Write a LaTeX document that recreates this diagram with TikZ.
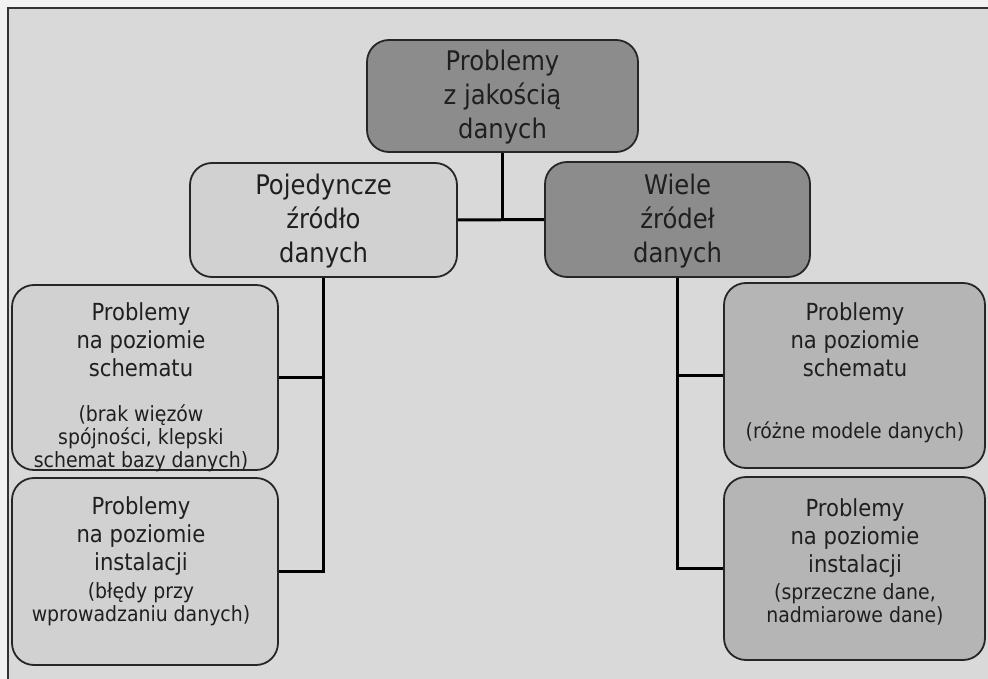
\documentclass[tikz,border=0pt]{standalone}
\usepackage{fontspec}
\setmainfont{DejaVu Sans Condensed}
\begin{document}
\begin{tikzpicture}[x=1pt,y=-1pt,
  boxline/.style={draw=black!85, line width=1.8pt, rounded corners=22pt},
  darkbox/.style={boxline, fill=black!45},
  lightbox/.style={boxline, fill=black!18},
  midbox/.style={boxline, fill=black!29},
  bigtxt/.style={align=center, text=black!88, font=\fontsize{27}{34}\selectfont},
  maintxt/.style={align=center, text=black!88, font=\fontsize{23.5}{28}\selectfont},
  subtxt/.style={align=center, text=black!88, font=\fontsize{21}{23}\selectfont},
  link/.style={draw=black, line width=3pt}]
  \useasboundingbox (0,0) rectangle (988,679);
  % page and frame
  \fill[black!5] (0,0) rectangle (988,679);
  \fill[black!15] (8,8) rectangle (988,679);
  \draw[black!80, line width=1.6pt] (8,679) -- (8,8) -- (988,8);

  % boxes
  \node[darkbox, minimum width=271pt, minimum height=112pt] (top) at (502.5,96) {};
  \node[lightbox, minimum width=267pt, minimum height=114pt] (poj) at (323.5,220) {};
  \node[darkbox, minimum width=265pt, minimum height=115pt] (wie) at (677.5,219.5) {};
  \node[lightbox, minimum width=266pt, minimum height=185pt] (l1) at (145,377.5) {};
  \node[lightbox, minimum width=266pt, minimum height=187pt] (l2) at (145,571.5) {};
  \node[midbox, minimum width=261pt, minimum height=185pt] (r1) at (854.5,375.5) {};
  \node[midbox, minimum width=261pt, minimum height=183pt] (r2) at (854.5,568.5) {};

  % connectors
  \coordinate (mid) at (top.south |- poj.east);
  \draw[link] (top.south) -- (mid);
  \draw[link] (poj.east) -- (wie.west);
  \coordinate (lbot) at (poj.south |- l2.east);
  \draw[link] (poj.south) -- (lbot) -- (l2.east);
  \draw[link] (l1.east) -- (l1.east -| poj.south);
  \coordinate (rbot) at (wie.south |- r2.west);
  \draw[link] (wie.south) -- (rbot) -- (r2.west);
  \draw[link] (r1.west) -- (r1.west -| wie.south);

  % texts
  \node[bigtxt] (toptxt) at (502.5,97) {Problemy\\z jakością\\danych};
  \node[bigtxt] (pojtxt) at (323.5,221) {Pojedyncze\\źródło\\danych};
  \node[bigtxt] (wietxt) at (677.5,221) {Wiele\\źródeł\\danych};

  \node[maintxt] (l1a) at (141,340) {Problemy\\na poziomie\\schematu};
  \node[subtxt] (l1b) at (141,438) {(brak więzów\\spójności, klepski\\schemat bazy danych)};
  \node[maintxt] (l2a) at (141,536) {Problemy\\na poziomie\\instalacji};
  \node[subtxt] (l2b) at (141,604) {(błędy przy\\wprowadzaniu danych)};

  \node[maintxt] (r1a) at (855,340) {Problemy\\na poziomie\\schematu};
  \node[subtxt] (r1b) at (855,432) {(różne modele danych)};
  \node[maintxt] (r2a) at (855,538) {Problemy\\na poziomie\\instalacji};
  \node[subtxt] (r2b) at (855,604) {(sprzeczne dane,\\nadmiarowe dane)};
\end{tikzpicture}
\end{document}
